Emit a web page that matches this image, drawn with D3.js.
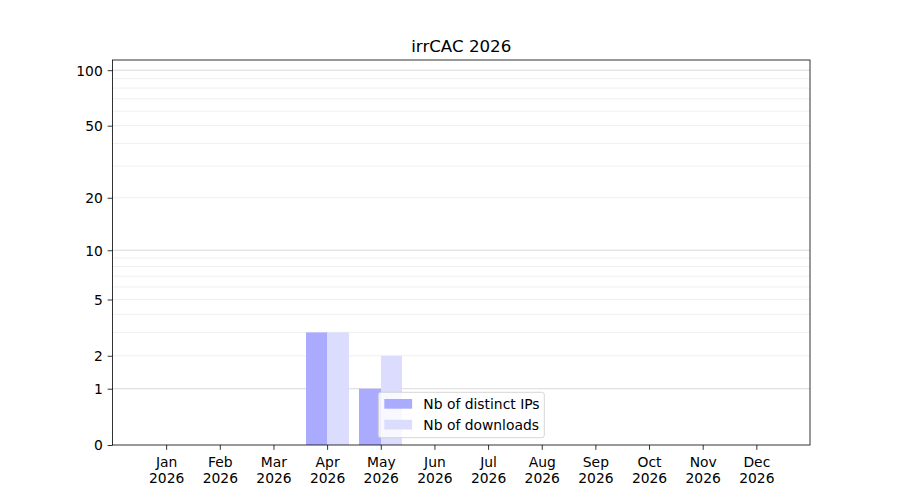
<!DOCTYPE html>
<html>
<head>
<meta charset="utf-8">
<script src="https://cdn.jsdelivr.net/npm/d3@7"></script>
<style>
  html, body { margin: 0; padding: 0; background: #fff; }
  svg { display: block; font-family: "DejaVu Sans", sans-serif; }
</style>
</head>
<body>
<svg id="chart" width="900" height="500"></svg>
<script>
// ---- data ----
const title = "irrCAC 2026";
const months = ["Jan","Feb","Mar","Apr","May","Jun","Jul","Aug","Sep","Oct","Nov","Dec"];
const year = "2026";
const distinctIPs = [0,0,0,3,1,0,0,0,0,0,0,0];
const downloads   = [0,0,0,3,2,0,0,0,0,0,0,0];
const seriesNames = ["Nb of distinct IPs", "Nb of downloads"];
const seriesColors = ["#aaaaff", "#dcdcfe"];
const yTickValues = [0,1,2,5,10,20,50,100];
const yMajorGrid = [1,10,100];
const yMinorGrid = [2,3,4,5,6,7,8,9,20,30,40,50,60,70,80,90];

// ---- layout ----
const L = 112.5, R = 810, T = 60, B = 445;
const FS = 13.89, TK = 4.86;
const svg = d3.select("#chart");

const x = d3.scaleLinear().domain([0, 13]).range([L, R]);
const xr = d3.scaleLinear().domain([0, 13]).range([L, R]).interpolate(d3.interpolateRound);
const y = d3.scaleSymlog().constant(1).domain([0, 113.5]).range([B, T]);
const barW = 0.4;

// grid
const g = svg.append("g");
g.selectAll("line.minor").data(yMinorGrid).enter().append("line")
  .attr("x1", L).attr("x2", R)
  .attr("y1", d => y(d)).attr("y2", d => y(d))
  .attr("stroke", "#ebebeb").attr("stroke-width", 0.8);
g.selectAll("line.major").data(yMajorGrid).enter().append("line")
  .attr("x1", L).attr("x2", R)
  .attr("y1", d => y(d)).attr("y2", d => y(d))
  .attr("stroke", "#cfcfcf").attr("stroke-width", 0.8);

// bars (IP bars drawn first, slightly extended underneath the download bars to avoid a seam)
const series = [distinctIPs, downloads];
series.forEach((vals, si) => {
  const x0 = i => xr(i + 1 + (si === 0 ? -barW : 0));
  const x1 = i => xr(i + 1 + (si === 0 ? 0 : barW)) + (si === 0 && downloads[i] > 0 ? 1 : 0);
  svg.append("g")
    .selectAll("rect").data(vals).enter().append("rect")
    .attr("x", (d, i) => x0(i))
    .attr("width", (d, i) => x1(i) - x0(i))
    .attr("y", d => y(d))
    .attr("height", d => y(0) - y(d))
    .attr("fill", seriesColors[si]);
});

// axes
const xAxis = d3.axisBottom(x)
  .tickValues(d3.range(1, 13))
  .tickSize(TK).tickPadding(TK)
  .tickFormat(() => "");
const xg = svg.append("g").attr("transform", `translate(0,${B})`).call(xAxis);
xg.select(".domain").remove();
xg.selectAll(".tick line").attr("stroke", "#000").attr("stroke-width", 0.8);
xg.selectAll(".tick text").remove();
xg.selectAll(".tick").append("text")
  .attr("fill", "#000").attr("font-size", FS + "px").attr("text-anchor", "middle")
  .attr("font-family", "DejaVu Sans")
  .each(function(d) {
    const t = d3.select(this);
    t.append("tspan").attr("x", 0).attr("y", 21.8).text(months[d - 1]);
    t.append("tspan").attr("x", 0).attr("y", 37.8).text(year);
  });

const yAxis = d3.axisLeft(y)
  .tickValues(yTickValues)
  .tickSize(TK).tickPadding(TK)
  .tickFormat(d3.format("d"));
const yg = svg.append("g").attr("transform", `translate(${L},0)`).call(yAxis);
yg.select(".domain").remove();
yg.selectAll(".tick line").attr("stroke", "#000").attr("stroke-width", 0.8);
yg.selectAll(".tick text").attr("fill", "#000").attr("font-size", FS + "px")
  .attr("font-family", "DejaVu Sans").attr("dy", "0.35em");

// frame
svg.append("rect").attr("x", L).attr("y", T).attr("width", R - L).attr("height", B - T)
  .attr("fill", "none").attr("stroke", "#000").attr("stroke-width", 0.8);

// title
svg.append("text").attr("x", (L + R) / 2).attr("y", 51.7)
  .attr("text-anchor", "middle").attr("font-size", "16.67px").attr("fill", "#000")
  .text(title);

// legend
const lg = svg.append("g");
lg.append("rect").attr("x", 378.3).attr("y", 392.3).attr("width", 166).attr("height", 45.4)
  .attr("rx", 2.5).attr("fill", "#fff").attr("fill-opacity", 0.8)
  .attr("stroke", "#cccccc").attr("stroke-width", 0.8);
seriesNames.forEach((name, i) => {
  const yy = 399 + i * 20.8;
  lg.append("rect").attr("x", 384.3).attr("y", yy).attr("width", 27.8).attr("height", 9.7)
    .attr("fill", seriesColors[i]);
  lg.append("text").attr("x", 423.3).attr("y", yy + 10.2)
    .attr("font-size", FS + "px").attr("fill", "#000").text(name);
});
</script>
</body>
</html>
